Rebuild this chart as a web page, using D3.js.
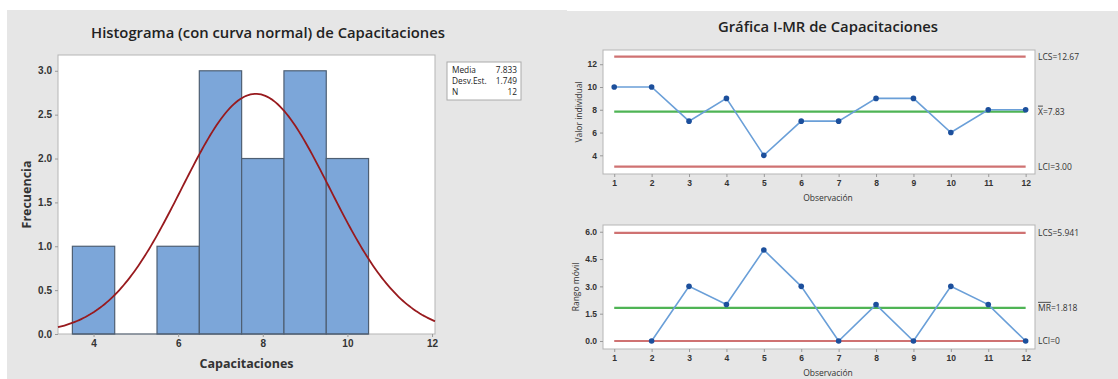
<!DOCTYPE html>
<html>
<head>
<meta charset="utf-8">
<script src="https://cdn.jsdelivr.net/npm/d3@7"></script>
<style>
  body { margin: 0; background: #fff; }
  svg { display: block; font-family: "Open Sans", "Noto Sans", sans-serif; }
</style>
</head>
<body>
<svg id="chart" width="1118" height="379"></svg>
<script>
// histogram data
const binStarts = [3.5, 5.5, 6.5, 7.5, 8.5, 9.5];
const binCounts = [1, 1, 3, 2, 3, 2];
const histXTicks = [4, 6, 8, 10, 12];
const histYTicks = [0, 0.5, 1.0, 1.5, 2.0, 2.5, 3.0];
const stats = [["Media", "7.833"], ["Desv.Est.", "1.749"], ["N", "12"]];
const mean = 7.833, sd = 1.749, nObs = 12;

// I-MR data
const observations = [1, 2, 3, 4, 5, 6, 7, 8, 9, 10, 11, 12];
const individual = [10, 10, 7, 9, 4, 7, 7, 9, 9, 6, 8, 8];
const movingRange = [null, 0, 3, 2, 5, 3, 0, 2, 0, 3, 2, 0];
const iLimits = { lcs: 12.67, center: 7.833, lci: 3.0 };
const mrLimits = { lcs: 5.941, center: 1.818, lci: 0 };
const iYTicks = [4, 6, 8, 10, 12];
const mrYTicks = [0, 1.5, 3.0, 4.5, 6.0];

const svg = d3.select("#chart");
const grey = "#e6e6e6";

svg.append("rect").attr("x", 7).attr("y", 10).attr("width", 560).attr("height", 369).attr("fill", grey);
svg.append("rect").attr("x", 566).attr("y", 11).attr("width", 552).attr("height", 368).attr("fill", grey);

// ---------- Histogram ----------
const H = { left: 58, right: 435, top: 55, bottom: 334 };
const hx = d3.scaleLinear().domain([3.16, 12.07]).range([H.left, H.right]);
const hy = d3.scaleLinear().domain([0, 3.18]).range([H.bottom, H.top]);

svg.append("rect")
    .attr("x", H.left).attr("y", H.top)
    .attr("width", H.right - H.left).attr("height", H.bottom - H.top)
    .attr("fill", "#fff").attr("stroke", "#b5b5b5");

const hist = svg.append("g");
hist.selectAll("rect.bar")
    .data(binStarts.map((s, i) => ({ s, c: binCounts[i] })))
    .enter().append("rect")
    .attr("class", "bar")
    .attr("x", d => hx(d.s))
    .attr("y", d => hy(d.c))
    .attr("width", d => hx(d.s + 1) - hx(d.s))
    .attr("height", d => hy(0) - hy(d.c))
    .attr("fill", "#7ca6d9")
    .attr("stroke", "#4e5f73")
    .attr("stroke-width", 1.2);

// baseline between bars
hist.append("line")
    .attr("x1", hx(3.5)).attr("x2", hx(10.5))
    .attr("y1", hy(0)).attr("y2", hy(0))
    .attr("stroke", "#4e5f73").attr("stroke-width", 1.2);

const curveX = d3.range(3.16, 12.07, 0.05).concat([12.07]);
const pdf = x => nObs * Math.exp(-0.5 * ((x - mean) / sd) ** 2) / (sd * Math.sqrt(2 * Math.PI));
hist.append("path")
    .datum(curveX)
    .attr("fill", "none")
    .attr("stroke", "#981a1e")
    .attr("stroke-width", 1.8)
    .attr("d", d3.line().x(d => hx(d)).y(d => hy(pdf(d))));

const hxAxis = svg.append("g")
    .attr("transform", `translate(0,${H.bottom})`)
    .call(d3.axisBottom(hx).tickValues(histXTicks).tickSize(3).tickSizeOuter(0));
const hyAxis = svg.append("g")
    .attr("transform", `translate(${H.left},0)`)
    .call(d3.axisLeft(hy).tickValues(histYTicks).tickFormat(d3.format(".1f")).tickSize(3).tickSizeOuter(0));
[hxAxis, hyAxis].forEach(a => {
    a.select(".domain").remove();
    a.selectAll("line").attr("stroke", "#999");
    a.selectAll("text").style("font-size", "10px").style("font-weight", "bold").attr("fill", "#333");
});

svg.append("text")
    .attr("x", 268).attr("y", 38)
    .attr("text-anchor", "middle")
    .style("font-size", "14.8px").style("font-weight", "600").attr("fill", "#222")
    .text("Histograma (con curva normal) de Capacitaciones");

svg.append("text")
    .attr("x", (H.left + H.right) / 2).attr("y", 368)
    .attr("text-anchor", "middle")
    .style("font-size", "12.5px").style("font-weight", "bold").attr("fill", "#333")
    .text("Capacitaciones");

svg.append("text")
    .attr("transform", `translate(31,${(H.top + H.bottom) / 2}) rotate(-90)`)
    .attr("text-anchor", "middle")
    .style("font-size", "12.5px").style("font-weight", "bold").attr("fill", "#333")
    .text("Frecuencia");

// stats box
const box = svg.append("g").attr("transform", "translate(447,62)");
box.append("rect").attr("width", 74).attr("height", 38).attr("fill", "#fff").attr("stroke", "#aaa");
stats.forEach((s, i) => {
    box.append("text").attr("x", 5).attr("y", 11 + i * 11)
        .style("font-size", "8.3px").attr("fill", "#222").text(s[0]);
    box.append("text").attr("x", 70).attr("y", 11 + i * 11).attr("text-anchor", "end")
        .style("font-size", "8.3px").attr("fill", "#222").text(s[1]);
});

// ---------- I-MR chart ----------
svg.append("text")
    .attr("x", 828).attr("y", 32)
    .attr("text-anchor", "middle")
    .style("font-size", "14.8px").style("font-weight", "600").attr("fill", "#222")
    .text("Gráfica I-MR de Capacitaciones");

const ox = d3.scaleLinear().domain([0.7, 12.25]).range([603, 1035]);

function controlChart(cfg) {
    const y = d3.scaleLinear().domain(cfg.domain).range([cfg.bottom, cfg.top]);
    const g = svg.append("g");
    g.append("rect")
        .attr("x", 603).attr("y", cfg.top)
        .attr("width", 1035 - 603).attr("height", cfg.bottom - cfg.top)
        .attr("fill", "#fff").attr("stroke", "#b5b5b5");

    const limitLine = (v, color) => {
        g.append("line")
            .attr("x1", ox(1)).attr("x2", ox(12))
            .attr("y1", y(v)).attr("y2", y(v))
            .attr("stroke", color).attr("stroke-width", 2.2);
    };
    limitLine(cfg.limits.lcs, "#cf7272");
    limitLine(cfg.limits.lci, "#cf7272");
    limitLine(cfg.limits.center, "#4fb455");

    const pts = observations.map((o, i) => ({ o, v: cfg.values[i] })).filter(d => d.v !== null);
    g.append("path")
        .datum(pts)
        .attr("fill", "none")
        .attr("stroke", "#6a9fd8")
        .attr("stroke-width", 1.6)
        .attr("d", d3.line().x(d => ox(d.o)).y(d => y(d.v)));
    g.selectAll("circle")
        .data(pts)
        .enter().append("circle")
        .attr("cx", d => ox(d.o)).attr("cy", d => y(d.v))
        .attr("r", 2.8).attr("fill", "#1c4f9c");

    const xa = svg.append("g")
        .attr("transform", `translate(0,${cfg.bottom})`)
        .call(d3.axisBottom(ox).tickValues(observations).tickSize(3).tickSizeOuter(0));
    const ya = svg.append("g")
        .attr("transform", "translate(603,0)")
        .call(d3.axisLeft(y).tickValues(cfg.ticks).tickFormat(cfg.fmt).tickSize(3).tickSizeOuter(0));
    [xa, ya].forEach(a => {
        a.select(".domain").remove();
        a.selectAll("line").attr("stroke", "#999");
        a.selectAll("text").style("font-size", "8.5px").style("font-weight", "600").attr("fill", "#333");
    });

    svg.append("text")
        .attr("x", 828).attr("y", cfg.bottom + 27)
        .attr("text-anchor", "middle")
        .style("font-size", "8.5px").attr("fill", "#333")
        .text("Observación");
    svg.append("text")
        .attr("transform", `translate(${cfg.ylabX},${(cfg.top + cfg.bottom) / 2}) rotate(-90)`)
        .attr("text-anchor", "middle")
        .style("font-size", "8.5px").attr("fill", "#333")
        .text(cfg.ylabel);

    cfg.labels.forEach(l => {
        const t = svg.append("text")
            .attr("x", 1038).attr("y", y(l.v) + 3)
            .style("font-size", "8.5px").attr("fill", "#333");
        if (l.bar) {
            t.append("tspan").style("text-decoration", "overline").text(l.bar);
            t.append("tspan").text(l.text);
        } else {
            t.text(l.text);
        }
    });
}

controlChart({
    top: 50, bottom: 174, domain: [2.36, 13.25],
    values: individual, limits: iLimits, ticks: iYTicks, fmt: d3.format("d"),
    ylabel: "Valor individual", ylabX: 582,
    labels: [
        { v: iLimits.lcs, text: "LCS=12.67" },
        { v: iLimits.center, bar: "X", text: "=7.83" },
        { v: iLimits.lci, text: "LCI=3.00" }
    ]
});

controlChart({
    top: 225, bottom: 349, domain: [-0.44, 6.37],
    values: movingRange, limits: mrLimits, ticks: mrYTicks, fmt: d3.format(".1f"),
    ylabel: "Rango móvil", ylabX: 579,
    labels: [
        { v: mrLimits.lcs, text: "LCS=5.941" },
        { v: mrLimits.center, bar: "MR", text: "=1.818" },
        { v: mrLimits.lci, text: "LCI=0" }
    ]
});
</script>
</body>
</html>
